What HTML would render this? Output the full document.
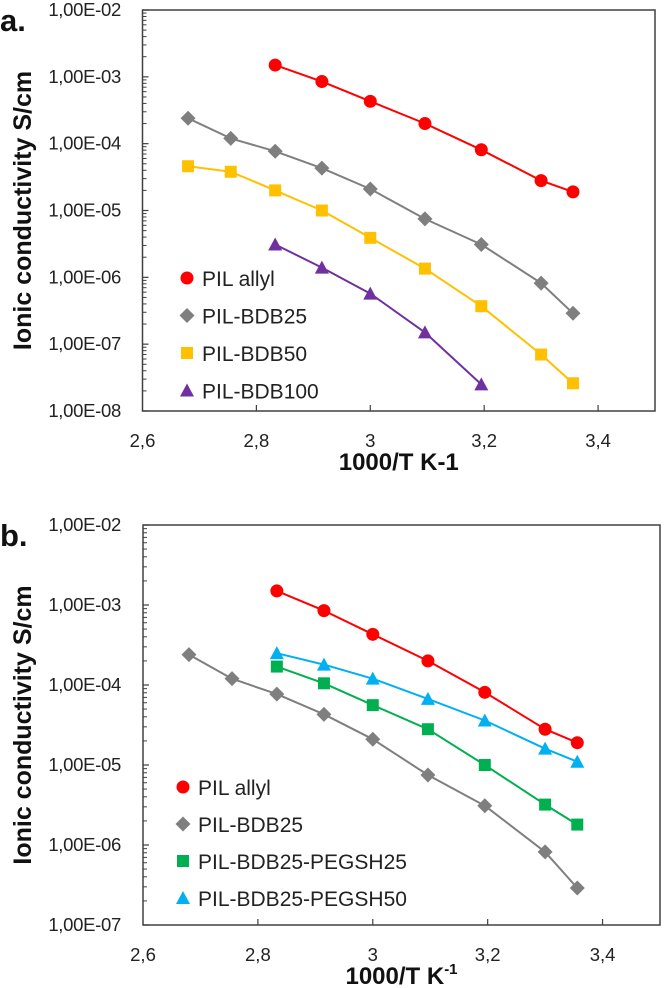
<!DOCTYPE html>
<html><head><meta charset="utf-8">
<style>
html,body{margin:0;padding:0;background:#fff;}
svg{display:block;font-family:"Liberation Sans",Arial,sans-serif;}
</style></head>
<body>
<svg id="fig" width="664" height="988" viewBox="0 0 664 988" xmlns="http://www.w3.org/2000/svg"></svg>
<script>
// Panel a data
const xA = [2.68, 2.755, 2.833, 2.915, 3.0, 3.096, 3.195, 3.3, 3.356];
const allylX = [2.833, 2.915, 3.0, 3.096, 3.195, 3.3, 3.356];
const allylY = [1.5e-3, 8.5e-4, 4.3e-4, 2.0e-4, 8.1e-5, 2.8e-5, 1.9e-5];
const bdb25Y = [2.4e-4, 1.2e-4, 7.7e-5, 4.3e-5, 2.1e-5, 7.5e-6, 3.1e-6, 8.2e-7, 2.9e-7];
const bdb50Y = [4.6e-5, 3.8e-5, 2.0e-5, 1.0e-5, 3.9e-6, 1.35e-6, 3.7e-7, 7e-8, 2.6e-8];
const bdb100X = [2.833, 2.915, 3.0, 3.096, 3.195];
const bdb100Y = [3.1e-6, 1.4e-6, 5.7e-7, 1.5e-7, 2.5e-8];
// Panel b data
const pegX = [2.833, 2.915, 3.0, 3.096, 3.195, 3.3, 3.356];
const peg25Y = [1.7e-4, 1.05e-4, 5.6e-5, 2.8e-5, 1.0e-5, 3.2e-6, 1.8e-6];
const peg50Y = [2.5e-4, 1.8e-4, 1.2e-4, 6.7e-5, 3.6e-5, 1.6e-5, 1.1e-5];
const xTicks = [2.6, 2.8, 3.0, 3.2, 3.4];
const xTickLabels = ["2,6", "2,8", "3", "3,2", "3,4"];

const NS = "http://www.w3.org/2000/svg";
const svg = document.getElementById('fig');
function mk(tag, attrs, parent, text){
  const e = document.createElementNS(NS, tag);
  for (const k in attrs) e.setAttribute(k, attrs[k]);
  if (text !== undefined) e.textContent = text;
  (parent || svg).appendChild(e);
  return e;
}
function marker(g, kind, color, cx, cy){
  let m;
  if (kind === 'circle') m = mk('circle', {cx:cx, cy:cy, r:6.5, fill:color}, g);
  else if (kind === 'diamond') m = mk('polygon', {points:`${cx},${cy-7.5} ${cx+7.5},${cy} ${cx},${cy+7.5} ${cx-7.5},${cy}`, fill:color}, g);
  else if (kind === 'square') m = mk('rect', {x:cx-6, y:cy-6, width:12, height:12, fill:color}, g);
  else m = mk('polygon', {points:`${cx},${cy-7} ${cx+7},${cy+6} ${cx-7},${cy+6}`, fill:color}, g);
  
  
  return m;
}
function panel(p){
  const g = mk('g', {});
  
  
  const X = v => p.x0 + (v - 2.6) / 0.9 * (p.x1 - p.x0);
  const dec = (p.y1 - p.y0) / (p.logMax - p.logMin);
  const Y = v => p.y0 + (p.logMax - Math.log10(v)) * dec;
  const fr = mk('rect', {x:p.x0, y:p.y0, width:p.x1-p.x0, height:p.y1-p.y0, fill:'none', stroke:'#404040', 'stroke-width':1.5}, g);
  
  
  for (let e = p.logMin; e <= p.logMax; e++){
    const yy = Y(Math.pow(10, e));
    const t = mk('text', {x:121, y:yy+6, 'text-anchor':'end', 'font-size':18.5, fill:'#222', 'letter-spacing':'-0.3'}, g, '1,00E-' + String(-e).padStart(2,'0'));
    
    
    mk('line', {x1:p.x0, x2:p.x0+6, y1:yy, y2:yy, stroke:'#404040', 'stroke-width':1.2}, g);
    if (e < p.logMax){
      for (let k = 2; k <= 9; k++){
        const ym = Y(k * Math.pow(10, e));
        mk('line', {x1:p.x0, x2:p.x0+4, y1:ym, y2:ym, stroke:'#404040', 'stroke-width':1}, g);
      }
    }
  }
  xTicks.forEach((v, i) => {
    const xx = X(v);
    if (i > 0) mk('line', {x1:xx, x2:xx, y1:p.y1, y2:p.y1-6, stroke:'#404040', 'stroke-width':1.2}, g);
    const t = mk('text', {x:xx, y:p.y1+36, 'text-anchor':'middle', 'font-size':18.5, fill:'#222'}, g, xTickLabels[i]);
    
    
  });
  p.series.forEach(s => {
    const sg = mk('g', {}, g);
    
    
    const pts = s.x.map((v, i) => X(v).toFixed(1) + ',' + Y(s.y[i]).toFixed(1)).join(' ');
    mk('polyline', {points:pts, fill:'none', stroke:s.color, 'stroke-width':2, 'stroke-linejoin':'round'}, sg);
    s.x.forEach((v, i) => marker(sg, s.kind, s.color, X(v), Y(s.y[i])));
  });
  const lg = mk('g', {}, g);
  
  
  p.series.forEach((s, i) => {
    const yy = p.legY + i * p.legDy;
    const eg = mk('g', {}, lg);
    
    
    marker(eg, s.kind, s.color, p.legX, yy);
    mk('text', {x:p.legX+15, y:yy+8, 'font-size':21, fill:'#222'}, eg, s.label);
  });
  const xt = mk('text', {x:(p.x0+p.x1)/2, y:p.y1+59, 'text-anchor':'middle', 'font-size':24, 'font-weight':'bold', fill:'#111'}, g);
  
  
  xt.textContent = '1000/T K';
  if (p.sup){ mk('tspan', {'font-size':15, dy:-10}, xt, '-1'); }
  else xt.textContent = '1000/T K-1';
  const cy = (p.y0 + p.y1) / 2;
  const yt = mk('text', {x:0, y:0, transform:`translate(31,${cy}) rotate(-90)`, 'text-anchor':'middle', 'font-size':25, 'font-weight':'bold', fill:'#111'}, g, 'Ionic conductivity S/cm');
  
  
  const pl = mk('text', {x:0, y:p.y0+21, 'font-size':31, 'font-weight':'bold', fill:'#111'}, g, p.tag);
  
  
}
panel({name:'panel-a', tag:'a.', x0:142.5, x1:655, y0:10, y1:411, logMax:-2, logMin:-8, legX:187, legY:278, legDy:37.5, sup:false,
  series:[
    {id:'pil-allyl', label:'PIL allyl', kind:'circle', color:'#ff0000', x:allylX, y:allylY},
    {id:'pil-bdb25', label:'PIL-BDB25', kind:'diamond', color:'#7f7f7f', x:xA, y:bdb25Y},
    {id:'pil-bdb50', label:'PIL-BDB50', kind:'square', color:'#ffc000', x:xA, y:bdb50Y},
    {id:'pil-bdb100', label:'PIL-BDB100', kind:'triangle', color:'#7030a0', x:bdb100X, y:bdb100Y}
  ]});
panel({name:'panel-b', tag:'b.', x0:143, x1:660, y0:525, y1:925, logMax:-2, logMin:-7, legX:183, legY:787, legDy:37, sup:true,
  series:[
    {id:'pil-allyl', label:'PIL allyl', kind:'circle', color:'#ff0000', x:allylX, y:allylY},
    {id:'pil-bdb25', label:'PIL-BDB25', kind:'diamond', color:'#7f7f7f', x:xA, y:bdb25Y},
    {id:'pegsh25', label:'PIL-BDB25-PEGSH25', kind:'square', color:'#00b050', x:pegX, y:peg25Y},
    {id:'pegsh50', label:'PIL-BDB25-PEGSH50', kind:'triangle', color:'#00b0f0', x:pegX, y:peg50Y}
  ]});
</script>
</body></html>
